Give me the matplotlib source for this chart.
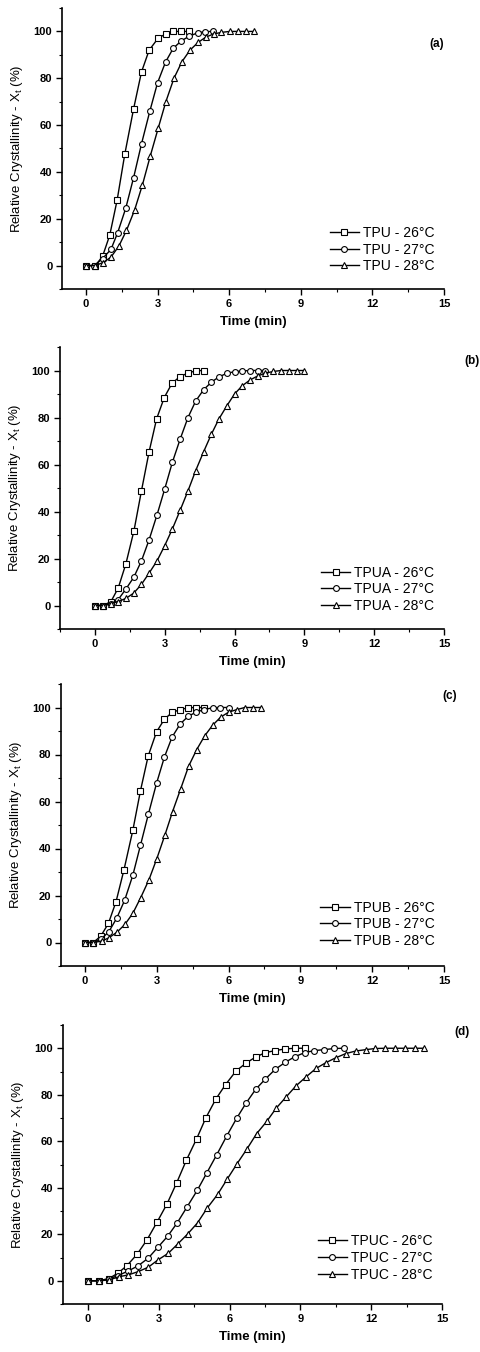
import matplotlib.pyplot as plt
from matplotlib.ticker import MultipleLocator

plt.rcParams['font.family'] = ['Liberation Sans', 'DejaVu Sans']

# (a) TPU
tpu26_t = [0, 0.4, 0.7, 1.0, 1.31, 1.63, 2.0, 2.33, 2.65, 3.02, 3.35, 3.66, 4.0, 4.33]
tpu26_x = [0, 0, 4, 13, 28, 47.6, 67, 82.7, 92, 97, 99, 100, 100, 100]
tpu27_t = [0, 0.35, 0.7, 1.05, 1.33, 1.67, 2.0, 2.33, 2.68, 3.0, 3.34, 3.66, 4.0, 4.34, 4.68, 5.0, 5.33]
tpu27_x = [0, 0, 3, 6.9, 14, 24.5, 37.6, 52, 66, 78, 87, 92.8, 96, 98, 99.4, 99.9, 100]
tpu28_t = [0, 0.38, 0.73, 1.05, 1.38, 1.7, 2.04, 2.37, 2.7, 3.03, 3.35, 3.69, 4.02, 4.36, 4.7,
           5.03, 5.35, 5.68, 6.03, 6.36, 6.69, 7.03]
tpu28_x = [0, 0, 1.3, 3.6, 8.3, 15, 23.7, 34.5, 46.9, 58.7, 70, 80, 87, 92, 95.3,
           97.6, 98.9, 99.6, 100, 100, 100, 100]

# (b) TPUA
tpua26_t = [0, 0.36, 0.69, 1.0, 1.33, 1.68, 2.0, 2.33, 2.65, 2.98, 3.31, 3.65, 4.0, 4.34, 4.67]
tpua26_x = [0, 0, 1.7, 7.4, 17.7, 31.9, 48.8, 65.5, 79.4, 88.5, 94.5, 97.4, 98.9, 99.9, 100]
tpua27_t = [0, 0.33, 0.67, 1.0, 1.33, 1.67, 2.0, 2.33, 2.67, 3.0, 3.33, 3.67, 4.0, 4.33, 4.67,
            5.0, 5.33, 5.67, 6.0, 6.33, 6.67, 7.0, 7.33]
tpua27_x = [0, 0, 0.5, 2.5, 7, 12, 19, 28, 38.6, 49.6, 61, 71, 80, 87, 91.8,
            95, 97.3, 98.8, 99.5, 99.8, 100, 100, 100]
tpua28_t = [0, 0.33, 0.67, 1.0, 1.33, 1.67, 2.0, 2.33, 2.67, 3.0, 3.33, 3.67, 4.0, 4.33, 4.67,
            5.0, 5.33, 5.67, 6.0, 6.33, 6.67, 7.0, 7.33, 7.67, 8.0, 8.33, 8.67, 9.0]
tpua28_x = [0, 0, 0.8, 1.7, 3, 5.3, 9, 13.8, 19, 25.5, 32.6, 40.7, 48.8, 57.4, 65.4,
            72.8, 79.4, 85, 90, 93.5, 96, 97.7, 98.9, 99.6, 100, 100, 100, 100]

# (c) TPUB
tpub26_t = [0, 0.35, 0.66, 0.98, 1.3, 1.63, 2.0, 2.32, 2.64, 2.99, 3.32, 3.64, 3.98, 4.32, 4.65, 4.99]
tpub26_x = [0, 0, 2.7, 8.1, 17.4, 30.9, 47.7, 64.6, 79.3, 89.6, 95, 97.9, 99.1, 99.9, 100, 100]
tpub27_t = [0, 0.35, 0.66, 1.0, 1.33, 1.66, 2.0, 2.32, 2.65, 2.99, 3.32, 3.64, 3.98, 4.32, 4.66,
            4.99, 5.33, 5.66, 6.0]
tpub27_x = [0, 0, 1.3, 4.6, 10.4, 18, 28.6, 41.4, 54.6, 67.7, 78.9, 87.4, 93, 96.3, 98.1,
            99.1, 99.9, 100, 100]
tpub28_t = [0, 0.35, 0.7, 1.0, 1.34, 1.67, 2.0, 2.33, 2.67, 3.0, 3.34, 3.66, 4.0, 4.33, 4.67,
            5.0, 5.33, 5.67, 6.0, 6.34, 6.68, 7.0, 7.36]
tpub28_x = [0, 0, 0.6, 2, 4.4, 7.7, 12.4, 19.1, 26.6, 35.6, 45.7, 55.7, 65.4, 75, 82.1,
            87.9, 92.4, 95.9, 98, 99.1, 100, 100, 100]

# (d) TPUC
tpuc26_t = [0, 0.45, 0.88, 1.27, 1.65, 2.08, 2.5, 2.93, 3.35, 3.76, 4.17, 4.6, 5.0, 5.42, 5.83,
            6.27, 6.68, 7.1, 7.51, 7.93, 8.35, 8.77, 9.18]
tpuc26_x = [0, 0, 0.9, 3.3, 6.5, 11.4, 17.6, 25.3, 33.1, 42.2, 51.9, 61, 70.2, 78.2, 84.4,
            90.2, 93.5, 96.2, 98.1, 99, 99.7, 100, 100]
tpuc27_t = [0, 0.45, 0.88, 1.27, 1.7, 2.12, 2.55, 2.97, 3.37, 3.78, 4.2, 4.63, 5.04, 5.46, 5.88,
            6.3, 6.69, 7.11, 7.51, 7.93, 8.35, 8.77, 9.18, 9.59, 10.01, 10.44, 10.85]
tpuc27_x = [0, 0, 0.8, 2.2, 4.2, 6.4, 9.7, 14.5, 19.1, 24.9, 31.8, 38.9, 46.5, 54.3, 62.3,
            69.9, 76.3, 82.4, 86.7, 90.9, 93.9, 96.4, 98.1, 99, 99.4, 99.9, 100]
tpuc28_t = [0, 0.45, 0.88, 1.3, 1.7, 2.12, 2.55, 2.97, 3.4, 3.8, 4.22, 4.64, 5.06, 5.49, 5.91,
            6.32, 6.73, 7.14, 7.57, 7.98, 8.39, 8.81, 9.24, 9.66, 10.08, 10.5, 10.92, 11.34,
            11.77, 12.18, 12.6, 13.01, 13.44, 13.86, 14.25]
tpuc28_x = [0, 0, 0.3, 1.7, 2.5, 3.9, 5.8, 9, 11.8, 15.8, 20.1, 24.9, 31.4, 37.1, 43.9,
            50.4, 56.6, 63.2, 68.5, 74.3, 79, 83.8, 87.7, 91.3, 93.8, 95.9, 97.7, 98.8,
            99.4, 99.9, 100, 100, 100, 100, 100]

temps = ["26°C", "27°C", "28°C"]
markers = ["s", "o", "^"]

# name, tag, series, axes rect (px: left, top, right, bottom), xmin, legend y, tag pos (px)
panels = [
    ("TPU", "(a)", [(tpu26_t, tpu26_x), (tpu27_t, tpu27_x), (tpu28_t, tpu28_x)],
     (62, 8, 444, 289), -1.0, 0.225, (437, 44)),
    ("TPUA", "(b)", [(tpua26_t, tpua26_x), (tpua27_t, tpua27_x), (tpua28_t, tpua28_x)],
     (60, 347, 444, 629), -1.5, 0.225, (472, 361)),
    ("TPUB", "(c)", [(tpub26_t, tpub26_x), (tpub27_t, tpub27_x), (tpub28_t, tpub28_x)],
     (61, 684, 444, 966), -1.0, 0.232, (450, 696)),
    ("TPUC", "(d)", [(tpuc26_t, tpuc26_x), (tpuc27_t, tpuc27_x), (tpuc28_t, tpuc28_x)],
     (63, 1025, 442, 1304), -1.06, 0.25, (462, 1032)),
]

W, H = 480, 1352
fig = plt.figure(figsize=(W / 100, H / 100), dpi=100)

for name, tag, series, (l, t, r, b), xmin, leg_y, (tx, ty) in panels:
    ax = fig.add_axes([l / W, 1 - b / H, (r - l) / W, (b - t) / H])
    for (tt, xx), temp, m in zip(series, temps, markers):
        ax.plot(tt, xx, color="black", lw=1.0, marker=m, ms=4.2 if m != "^" else 5,
                mfc="white", mec="black", mew=0.8, label=f"{name} - {temp}")

    ax.set_xlim(xmin, 15)
    ax.set_ylim(-10, 110)
    ax.xaxis.set_major_locator(MultipleLocator(3))
    ax.xaxis.set_minor_locator(MultipleLocator(1.5))
    ax.yaxis.set_major_locator(MultipleLocator(20))
    ax.yaxis.set_minor_locator(MultipleLocator(10))
    ax.tick_params(which="major", direction="out", length=4, width=1, labelsize=8, pad=3)
    ax.tick_params(which="minor", direction="out", length=2.5, width=0.8)
    for lab in ax.get_xticklabels() + ax.get_yticklabels():
        lab.set_fontweight("bold")
    ax.spines["top"].set_visible(False)
    ax.spines["right"].set_visible(False)
    ax.spines["left"].set_linewidth(1.2)
    ax.spines["bottom"].set_linewidth(1.2)

    ax.set_xlabel("Time (min)", fontsize=9.5, fontweight="bold", labelpad=5)
    ax.set_ylabel("Relative Crystallinity - X$_\\mathregular{t}$ (%)", fontsize=9.5,
                  labelpad=6)

    ax.legend(loc="upper right", bbox_to_anchor=(0.975, leg_y), frameon=False,
              fontsize=10, borderaxespad=0, borderpad=0, handlelength=2.1,
              handletextpad=0.3, labelspacing=0.2)

    fig.text(tx / W, 1 - ty / H, tag, fontsize=8.5, fontweight="bold",
             ha="center", va="center")

fig.savefig("out.png", dpi=100)
